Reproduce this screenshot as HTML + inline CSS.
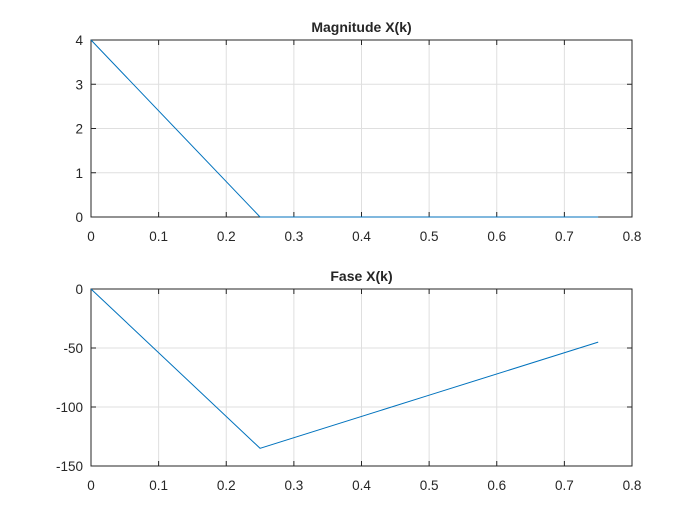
<!DOCTYPE html>
<html><head><meta charset="utf-8"><style>
body{margin:0;background:#fff;}
svg text{font-family:"Liberation Sans",sans-serif;fill:#262626;}
</style></head><body>
<svg id="fig" width="700" height="525"></svg>
<script>
const xVals=[0,0.25,0.5,0.75];
const magVals=[4,0,0,0];
const phaseVals=[0,-135,-90,-45];
const xTicks=[0,0.1,0.2,0.3,0.4,0.5,0.6,0.7,0.8];
const magTicks=[0,1,2,3,4];
const phaseTicks=[-150,-100,-50,0];
const NS="http://www.w3.org/2000/svg";
const svg=document.getElementById('fig');
function mk(t,a,p){const e=document.createElementNS(NS,t);for(const k in a)e.setAttribute(k,a[k]);(p||svg).appendChild(e);return e;}
function panel(name,title,top,bot,ymin,ymax,yt,ys){
  const g=mk('g',{});
  
  
  const L=91,R=632;
  const sx=v=>L+(v-0)/(0.8)*(R-L);
  const sy=v=>bot-(v-ymin)/(ymax-ymin)*(bot-top);
  mk('rect',{x:L,y:top,width:R-L,height:bot-top,fill:'#fff',stroke:'none'},g);
  xTicks.forEach(t=>{const x=sx(t);
    const gl=mk('line',{x1:x,x2:x,y1:top,y2:bot,stroke:'#dfdfdf','stroke-width':1},g);
    
    mk('line',{x1:x,x2:x,y1:bot,y2:bot-5,stroke:'#262626'},g);mk('line',{x1:x,x2:x,y1:top,y2:top+5,stroke:'#262626'},g);
    const tx=mk('text',{x:x,y:bot+24,'font-size':13.5,'text-anchor':'middle'},g);tx.textContent=String(t);
    });
  yt.forEach(t=>{const y=sy(t);
    const gl=mk('line',{x1:L,x2:R,y1:y,y2:y,stroke:'#dfdfdf','stroke-width':1},g);
    
    mk('line',{x1:L,x2:L+5,y1:y,y2:y,stroke:'#262626'},g);mk('line',{x1:R,x2:R-5,y1:y,y2:y,stroke:'#262626'},g);
    const tx=mk('text',{x:L-8,y:y+5,'font-size':13.5,'text-anchor':'end'},g);tx.textContent=String(t);
    });
  mk('rect',{x:L,y:top,width:R-L,height:bot-top,fill:'none',stroke:'#262626','stroke-width':1},g);
  const pl=mk('polyline',{points:xVals.map((v,i)=>sx(v)+','+sy(ys[i])).join(' '),fill:'none',stroke:'#0072bd','stroke-width':1},g);
  
  const ti=mk('text',{x:(L+R)/2,y:top-8,'font-size':14,'font-weight':'bold','text-anchor':'middle',fill:'#000'},g);ti.textContent=title;
  
}
panel('magnitude','Magnitude X(k)',40,217,0,4,magTicks,magVals);
panel('phase','Fase X(k)',289,466,-150,0,phaseTicks,phaseVals);
</script>
</body></html>
